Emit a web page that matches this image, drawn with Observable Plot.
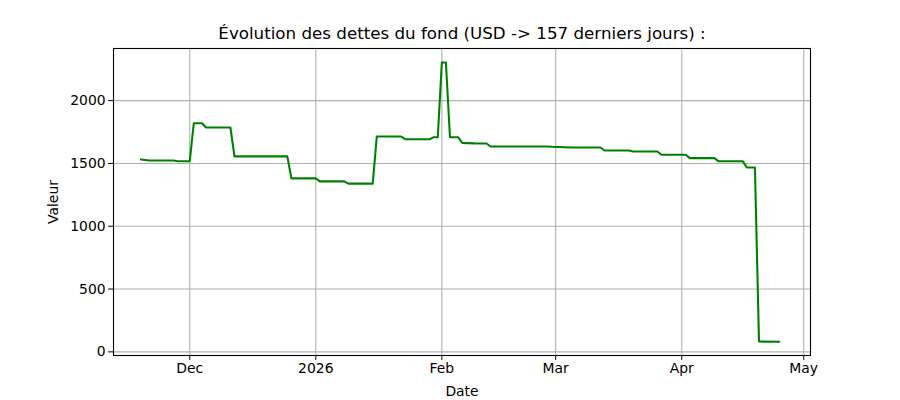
<!DOCTYPE html>
<html>
<head>
<meta charset="utf-8">
<script src="https://cdn.jsdelivr.net/npm/d3@7"></script>
<script src="https://cdn.jsdelivr.net/npm/@observablehq/plot@0.6"></script>
<style>
  html, body { margin: 0; padding: 0; background: white; }
  #chart { width: 900px; height: 400px; }
</style>
</head>
<body>
<div id="chart"></div>
<script>
const titleText = "Évolution des dettes du fond (USD -> 157 derniers jours) :";
const xLabel = "Date";
const yLabel = "Valeur";

const dates = [
  "2025-11-19", "2025-11-21", "2025-11-27", "2025-11-28", "2025-12-01",
  "2025-12-02", "2025-12-04", "2025-12-05", "2025-12-11", "2025-12-12",
  "2025-12-25", "2025-12-26", "2026-01-01", "2026-01-02", "2026-01-08",
  "2026-01-09", "2026-01-15", "2026-01-16", "2026-01-22", "2026-01-23",
  "2026-01-29", "2026-01-30", "2026-01-31", "2026-02-01", "2026-02-02",
  "2026-02-03", "2026-02-05", "2026-02-06", "2026-02-09", "2026-02-12",
  "2026-02-13", "2026-02-27", "2026-02-28", "2026-03-05", "2026-03-12",
  "2026-03-13", "2026-03-19", "2026-03-20", "2026-03-26", "2026-03-27",
  "2026-04-02", "2026-04-03", "2026-04-09", "2026-04-10", "2026-04-16",
  "2026-04-17", "2026-04-19", "2026-04-20", "2026-04-25"
];
const values = [
  1532, 1524, 1524, 1518, 1518,
  1820, 1820, 1786, 1786, 1556,
  1556, 1381, 1381, 1357, 1357,
  1339, 1339, 1714, 1714, 1693,
  1693, 1709, 1709, 2304, 2304,
  1709, 1709, 1664, 1660, 1659,
  1635, 1635, 1633, 1627, 1627,
  1603, 1603, 1595, 1595, 1569,
  1569, 1542, 1542, 1518, 1518,
  1468, 1468, 82, 80
];

const xTickDates = ["2025-12-01", "2026-01-01", "2026-02-01", "2026-03-01", "2026-04-01", "2026-05-01"];
const xTickLabels = ["Dec", "2026", "Feb", "Mar", "Apr", "May"];
const yTicks = [0, 500, 1000, 1500, 2000];

const data = dates.map((d, i) => ({date: new Date(d + "T00:00:00Z"), value: values[i]}));
const xTicks = xTickDates.map(d => new Date(d + "T00:00:00Z"));

const chart = Plot.plot({
  width: 900,
  height: 400,
  marginLeft: 113,
  marginRight: 90,
  marginTop: 48,
  marginBottom: 45,
  style: {fontFamily: "DejaVu Sans, sans-serif", fontSize: "13.9px", background: "white", color: "black"},
  x: {type: "utc", domain: [new Date("2025-11-12T06:00:00Z"), new Date("2026-05-02T16:00:00Z")]},
  y: {domain: [-29, 2415]},
  marks: [
    Plot.gridX(xTicks, {stroke: "#b0b0b0", strokeOpacity: 1, strokeWidth: 1.1}),
    Plot.gridY(yTicks, {stroke: "#b0b0b0", strokeOpacity: 1, strokeWidth: 1.1}),
    Plot.line(data, {x: "date", y: "value", stroke: "green", strokeWidth: 2.08, curve: "linear"}),
    Plot.frame({stroke: "black", strokeWidth: 1.1}),
    Plot.axisX(xTicks, {
      tickFormat: (d, i) => xTickLabels[i], tickSize: 4.9, tickPadding: 3,
      label: xLabel, labelAnchor: "center", labelOffset: 40, labelArrow: "none"
    }),
    Plot.axisY(yTicks, {
      tickFormat: d => String(d), tickSize: 4.9, tickPadding: 3,
      label: yLabel, labelAnchor: "center", labelOffset: 65, labelArrow: "none"
    }),
    Plot.text([titleText], {frameAnchor: "top", dy: -21, fontSize: 16.7, text: d => d})
  ]
});
document.getElementById("chart").appendChild(chart);
</script>
</body>
</html>
